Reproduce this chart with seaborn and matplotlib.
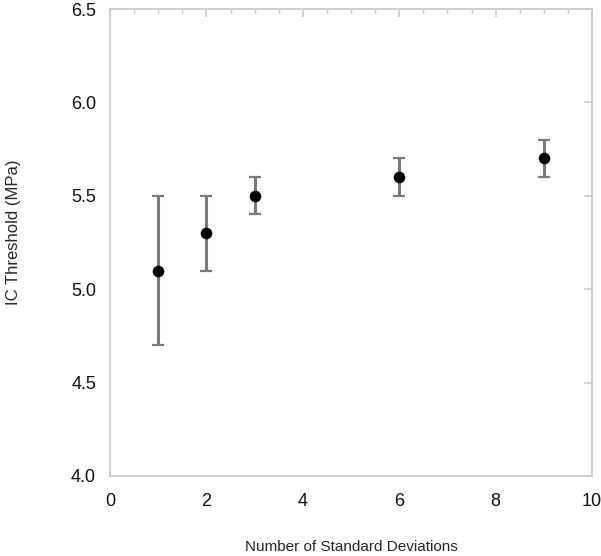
import matplotlib
matplotlib.use("Agg")
import matplotlib.pyplot as plt
from matplotlib.ticker import MultipleLocator
import seaborn as sns
import pandas as pd

# Data
n_std = [1, 2, 3, 6, 9]
threshold = [5.1, 5.3, 5.5, 5.6, 5.7]
err_low = [4.7, 5.1, 5.4, 5.5, 5.6]
err_high = [5.5, 5.5, 5.6, 5.7, 5.8]

df = pd.DataFrame({"n_std": n_std, "threshold": threshold})

sns.set_style("white")
plt.rcParams["font.family"] = ["Liberation Sans", "DejaVu Sans"]

fig = plt.figure(figsize=(6.01, 5.56), dpi=100)
ax = fig.add_axes([110 / 601, 1 - 476 / 556, 482 / 601, 467 / 556])

# error bars
yerr = [
    [t - lo for t, lo in zip(threshold, err_low)],
    [hi - t for t, hi in zip(threshold, err_high)],
]
ax.errorbar(
    n_std, threshold, yerr=yerr, fmt="none",
    ecolor="#7a7a7a", elinewidth=2.2, capsize=4, capthick=1.6, zorder=2,
)
sns.scatterplot(
    data=df, x="n_std", y="threshold", color="black", s=70,
    edgecolor="black", linewidth=0, ax=ax, zorder=3,
)

ax.set_xlim(0, 10)
ax.set_ylim(4.0, 6.5)
ax.xaxis.set_major_locator(MultipleLocator(2))
ax.xaxis.set_minor_locator(MultipleLocator(0.5))
ax.yaxis.set_major_locator(MultipleLocator(0.5))
ax.set_yticklabels([f"{v:.1f}" for v in ax.get_yticks()])

for s in ax.spines.values():
    s.set_color("#c8c8c8")
    s.set_linewidth(1.2)

ax.tick_params(which="both", direction="in", top=True, right=True,
               color="#c8c8c8", labelsize=13, labelcolor="#111111")
ax.tick_params(which="major", length=6, width=1.1, pad=12)
ax.tick_params(which="minor", length=3, width=1.0)
ax.tick_params(axis="y", which="major", pad=10)

ax.set_xlabel("Number of Standard Deviations", fontsize=11, labelpad=22)
ax.set_ylabel("IC Threshold (MPa)", fontsize=12)
ax.yaxis.set_label_coords(-0.184, 0.522)

fig.savefig("out.png", dpi=100)
